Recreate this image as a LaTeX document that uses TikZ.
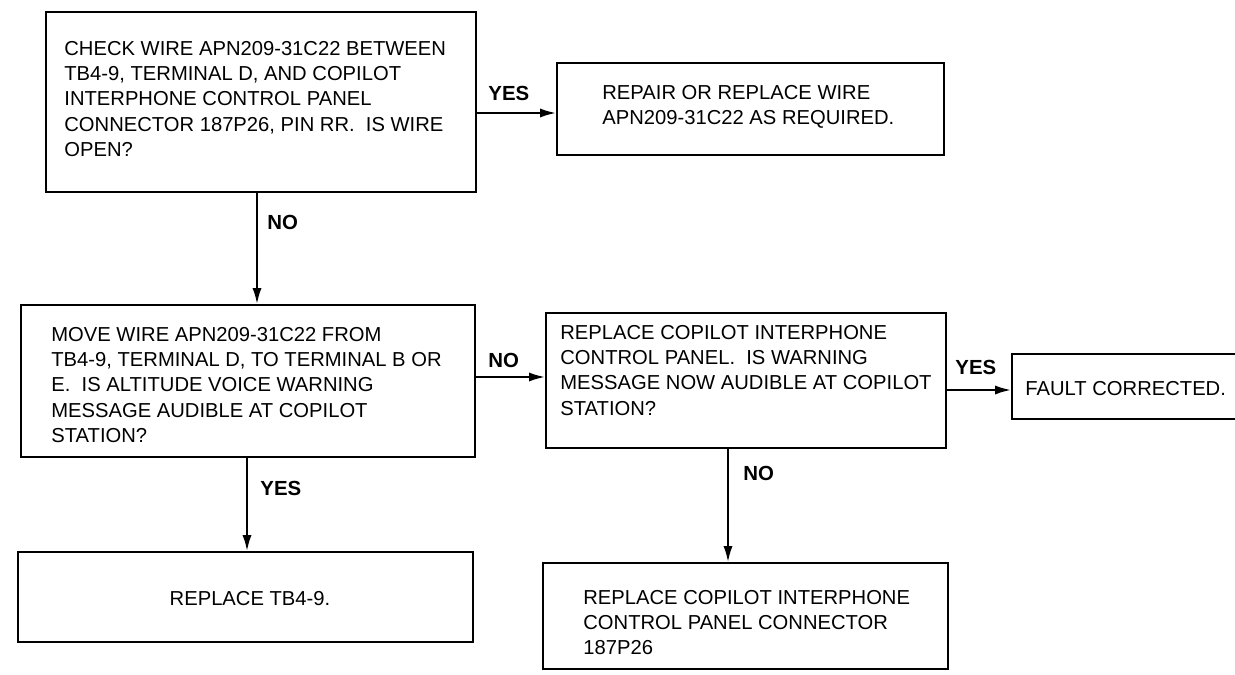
\documentclass[tikz,border=0pt]{standalone}
\usepackage{fontspec}
\setmainfont{Liberation Sans}
\usetikzlibrary{arrows.meta,fit}
\begin{document}
\begin{tikzpicture}[x=0.5pt,y=-0.5pt,
  box/.style={draw,line width=1pt,inner sep=0pt,rectangle},
  txt/.style={anchor=north west,inner sep=0pt,align=left,font=\fontsize{10.1pt}{12.6pt}\selectfont},
  lbl/.style={inner sep=0pt,font=\bfseries\fontsize{10.2pt}{12pt}\selectfont},
  arr/.style={line width=1pt,-{Latex[length=8pt,width=4.6pt]}}]
\useasboundingbox (0,0) rectangle (1235,674);
\fill[white] (0,0) rectangle (1235,674);
% boxes
\node[box,fit={(46,12) (476,192)}] (b1) {};
\node[box,fit={(557,63) (944,155)}] (b2) {};
\node[box,fit={(21,305) (475,457)}] (b3) {};
\node[box,fit={(546,313) (946,448)}] (b4) {};
\node[box,fit={(1012,354) (1245,419)}] (b5) {};
\node[box,fit={(18,552) (473,642)}] (b6) {};
\node[box,fit={(543,563) (948,669)}] (b7) {};
% texts
\node[txt] (t1) at (64,41) {CHECK WIRE APN209-31C22 BETWEEN\\TB4-9, TERMINAL D, AND COPILOT\\INTERPHONE CONTROL PANEL\\CONNECTOR 187P26, PIN RR.\ \ IS WIRE\\OPEN?};
\node[txt] (t2) at (602,85) {REPAIR OR REPLACE WIRE\\APN209-31C22 AS REQUIRED.};
\node[txt] (t3) at (51,327) {MOVE WIRE APN209-31C22 FROM\\TB4-9, TERMINAL D, TO TERMINAL B OR\\E.\ \ IS ALTITUDE VOICE WARNING\\MESSAGE AUDIBLE AT COPILOT\\STATION?};
\node[txt] (t4) at (560,325) {REPLACE COPILOT INTERPHONE\\CONTROL PANEL.\ \ IS WARNING\\MESSAGE NOW AUDIBLE AT COPILOT\\STATION?};
\node[txt,anchor=west] (t5) at (1025,389) {FAULT CORRECTED.};
\node[txt,anchor=center] (t6) at (250,599) {REPLACE TB4-9.};
\node[txt] (t7) at (583,590) {REPLACE COPILOT INTERPHONE\\CONTROL PANEL CONNECTOR\\187P26};
% connectors
\draw[arr] (b1.east |- 0,113) -- (b2.west |- 0,113);
\draw[arr] (257,0 |- b1.south) -- (257,0 |- b3.north);
\draw[arr] (b3.east |- 0,377) -- (b4.west |- 0,377);
\draw[arr] (b4.east |- 0,390) -- (b5.west |- 0,390);
\draw[arr] (247,0 |- b3.south) -- (247,0 |- b6.north);
\draw[arr] (728,0 |- b4.south) -- (728,0 |- b7.north);
% labels
\node[lbl,anchor=west] (l1) at (488,93) {YES};
\node[lbl,anchor=west] (l2) at (267,222) {NO};
\node[lbl,anchor=west] (l3) at (488,360) {NO};
\node[lbl,anchor=west] (l4) at (955,367) {YES};
\node[lbl,anchor=west] (l5) at (260,488) {YES};
\node[lbl,anchor=west] (l6) at (743,473) {NO};
\end{tikzpicture}
\end{document}
